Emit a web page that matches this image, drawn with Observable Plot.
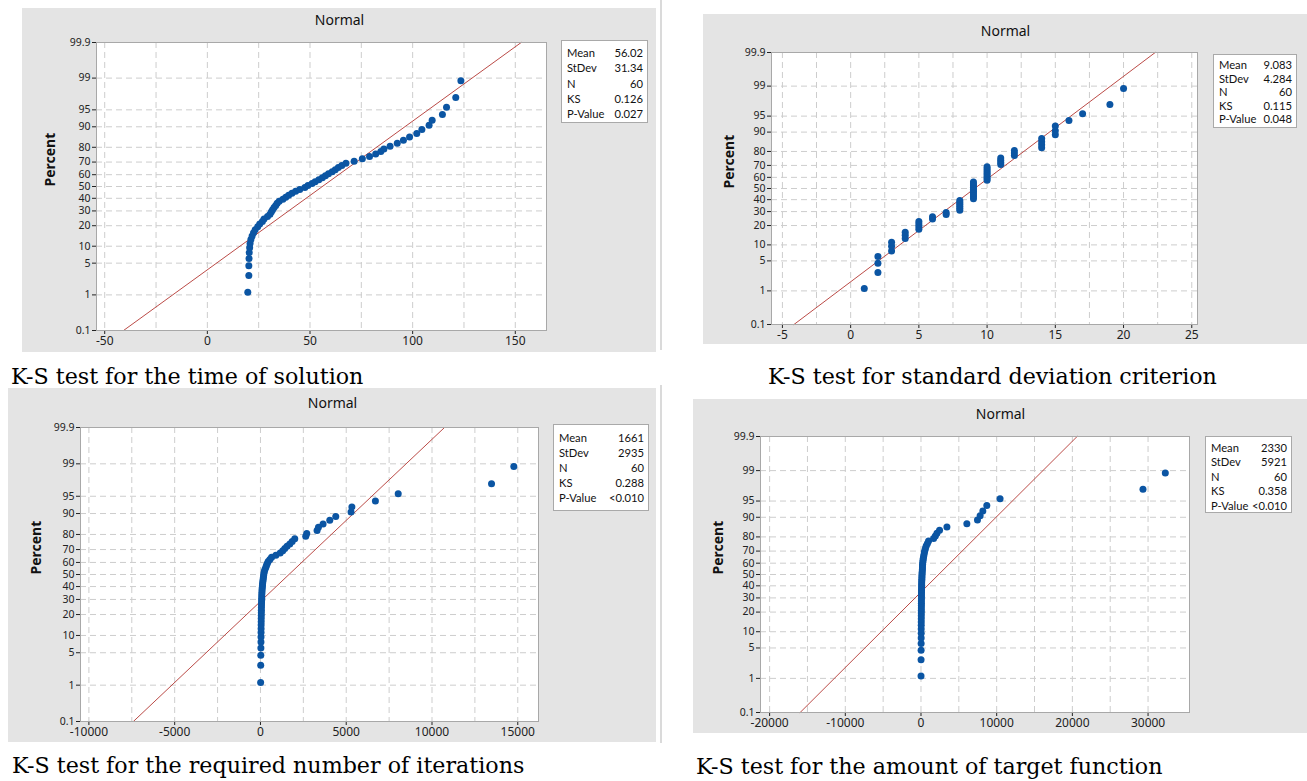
<!DOCTYPE html>
<html><head><meta charset="utf-8">
<script src="https://cdn.jsdelivr.net/npm/d3@7"></script>
<script src="https://cdn.jsdelivr.net/npm/@observablehq/plot@0.6"></script>
<style>
body{margin:0;background:#fff;}
#wrap{position:relative;width:1307px;height:781px;overflow:hidden;font-family:"Noto Sans",sans-serif;}
.panel{position:absolute;}
.panel svg{display:block;}
.stats{position:absolute;background:#fff;border:1px solid #a9a9a9;box-sizing:border-box;font-family:Lato,"Noto Sans",sans-serif;font-size:11.2px;color:#111;}
.stats .row{position:absolute;left:5px;right:4px;display:flex;justify-content:space-between;line-height:12px;height:12px;white-space:nowrap;}
.cap{position:absolute;font-family:"DejaVu Serif",serif;font-size:22.2px;line-height:24px;white-space:nowrap;color:#000;}
.vline{position:absolute;width:2px;background:#dadada;}
</style></head><body><div id="wrap"></div>
<script>
// ---------- data ----------
const percentTicks = [0.1, 1, 5, 10, 20, 30, 40, 50, 60, 70, 80, 90, 95, 99, 99.9];
const percentTickLabels = ["0.1","1","5","10","20","30","40","50","60","70","80","90","95","99","99.9"];

const timeOfSolution = [19.7, 20.2, 20.2, 20.3, 20.4, 20.6, 20.8, 21.2, 21.8, 22.5, 23.3, 24.5, 25.5, 26.8, 27.6, 29.3, 30.5, 31.2, 31.8, 32.5, 33.3, 34, 35, 36.8, 38.2, 39.6, 41.2, 43, 45, 47.5, 49, 51, 52.5, 54.3, 56, 57.5, 59, 60.8, 62.3, 63.8, 65.5, 67.5, 71.5, 75.5, 79, 82, 84.5, 86, 89, 92.5, 95.5, 98.5, 102, 104.5, 108, 109.5, 114.5, 116.5, 121, 123.5];
const stdDevCriterion = [1, 2, 2, 2, 3, 3, 3, 4, 4, 4, 5, 5, 5, 5, 6, 6, 7, 7, 8, 8, 8, 8, 8, 8, 9, 9, 9, 9, 9, 9, 9, 9, 9, 9, 10, 10, 10, 10, 10, 10, 10, 10, 11, 11, 11, 11, 12, 12, 12, 14, 14, 14, 14, 15, 15, 15, 16, 17, 19, 20];
const requiredIterations = [10, 15, 20, 25, 30, 32, 35, 38, 40, 43, 45, 48, 50, 53, 56, 60, 64, 68, 72, 76, 80, 88, 95, 105, 115, 125, 140, 155, 170, 185, 200, 225, 260, 310, 350, 400, 450, 550, 650, 900, 1150, 1300, 1420, 1550, 1710, 1850, 2000, 2640, 2700, 3300, 3380, 3650, 4040, 4390, 5280, 5330, 6700, 8030, 13470, 14770];
const targetFunction = [5, 10, 15, 20, 25, 28, 30, 33, 35, 38, 40, 42, 45, 48, 50, 52, 55, 58, 60, 63, 66, 70, 75, 80, 85, 90, 100, 110, 120, 130, 140, 160, 180, 190, 200, 210, 240, 270, 300, 350, 400, 450, 520, 600, 700, 850, 1000, 1665, 1900, 2108, 2450, 3425, 6060, 7460, 7813, 8170, 8696, 10448, 29330, 32280];

const statLabels = ["Mean", "StDev", "N", "KS", "P-Value"];
const means = [56.02, 9.083, 1661, 2330];
const stdevs = [31.34, 4.284, 2935, 5921];
const meanText = ["56.02", "9.083", "1661", "2330"];
const stdevText = ["31.34", "4.284", "2935", "5921"];
const nText = ["60", "60", "60", "60"];
const ksText = ["0.126", "0.115", "0.288", "0.358"];
const pText = ["0.027", "0.048", "<0.010", "<0.010"];

const xTicks = [
  [-50, 0, 50, 100, 150],
  [-5, 0, 5, 10, 15, 20, 25],
  [-10000, -5000, 0, 5000, 10000, 15000],
  [-20000, -10000, 0, 10000, 20000, 30000]
];
const xGrid = [
  [-50, -25, 0, 25, 50, 75, 100, 125, 150],
  [-5, -2.5, 0, 2.5, 5, 7.5, 10, 12.5, 15, 17.5, 20, 22.5, 25],
  [-10000, -7500, -5000, -2500, 0, 2500, 5000, 7500, 10000, 12500, 15000],
  [-20000, -15000, -10000, -5000, 0, 5000, 10000, 15000, 20000, 25000, 30000]
];
const xDomains = [[-54, 165.2], [-5.8, 25.42], [-10490, 16208], [-21204, 35476]];
const titles = ["Normal", "Normal", "Normal", "Normal"];
const captions = ["K-S test for the time of solution", "K-S test for standard deviation criterion", "K-S test for the required number of iterations", "K-S test for the amount of target function"];
const series = [timeOfSolution, stdDevCriterion, requiredIterations, targetFunction];

// ---------- layout ----------
const layout = [
  {left:22, top:8, w:634, h:344, mt:34, mr:110, mb:22, ml:74, titleDy:-27, pctDx:-45.5,
   box:{left:561, top:40, w:87, h:83, row0:12, step:15.3}, cap:{left:11, top:364}},
  {left:703, top:14, w:604, h:330, mt:38, mr:110, mb:20, ml:68, titleDy:-26, pctDx:-41.6,
   box:{left:1213, top:54, w:84, h:74, row0:10, step:13.6}, cap:{left:768, top:364}},
  {left:8, top:388, w:648, h:354, mt:39, mr:118, mb:21, ml:72, titleDy:-29, pctDx:-44.2,
   box:{left:553, top:424, w:96, h:87, row0:12.7, step:15.1}, cap:{left:12, top:753}},
  {left:693, top:399, w:614, h:334, mt:37, mr:118, mb:21, ml:67, titleDy:-27, pctDx:-42.1,
   box:{left:1205, top:436, w:87, h:77, row0:10.7, step:14.5}, cap:{left:696, top:754}}
];

// inverse normal CDF (Acklam)
function probit(p) {
  const a=[-3.969683028665376e+01,2.209460984245205e+02,-2.759285104469687e+02,1.383577518672690e+02,-3.066479806614716e+01,2.506628277459239e+00];
  const b=[-5.447609879822406e+01,1.615858368580409e+02,-1.556989798598866e+02,6.680131188771972e+01,-1.328068155288572e+01];
  const c=[-7.784894002430293e-03,-3.223964580411365e-01,-2.400758277161838e+00,-2.549732539343734e+00,4.374664141464968e+00,2.938163982698783e+00];
  const d=[7.784695709041462e-03,3.224671290700398e-01,2.445134137142996e+00,3.754408661907416e+00];
  const pl=0.02425, ph=1-pl;
  let q,r;
  if (p<pl){q=Math.sqrt(-2*Math.log(p));return (((((c[0]*q+c[1])*q+c[2])*q+c[3])*q+c[4])*q+c[5])/((((d[0]*q+d[1])*q+d[2])*q+d[3])*q+1);}
  if (p<=ph){q=p-0.5;r=q*q;return (((((a[0]*r+a[1])*r+a[2])*r+a[3])*r+a[4])*r+a[5])*q/(((((b[0]*r+b[1])*r+b[2])*r+b[3])*r+b[4])*r+1);}
  q=Math.sqrt(-2*Math.log(1-p));return -(((((c[0]*q+c[1])*q+c[2])*q+c[3])*q+c[4])*q+c[5])/((((d[0]*q+d[1])*q+d[2])*q+d[3])*q+1);
}

const wrap = document.getElementById("wrap");
const zTicks = percentTicks.map(p => probit(p/100));
const zLo = zTicks[0], zHi = zTicks[zTicks.length-1];
function pctLabel(z){ let best=0; zTicks.forEach((t,i)=>{ if (Math.abs(t-z)<Math.abs(zTicks[best]-z)) best=i; }); return percentTickLabels[best]; }

// separators
[[660,0,350],[660,385,358]].forEach(([x,y,h])=>{const v=document.createElement("div");v.className="vline";v.style.left=x+"px";v.style.top=y+"px";v.style.height=h+"px";wrap.appendChild(v);});

series.forEach((vals, k) => {
  const L = layout[k];
  const n = vals.length;
  const pts = vals.map((v,i)=>({x:v, z: probit((i+1-0.3)/(n+0.4))}));
  const fit = [zLo, zHi].map(z=>({x: means[k] + stdevs[k]*z, z}));
  const chart = Plot.plot({
    width: L.w, height: L.h,
    marginTop: L.mt, marginRight: L.mr, marginBottom: L.mb, marginLeft: L.ml,
    style: {background:"#e4e4e4", fontFamily:"'Noto Sans', sans-serif", fontSize:"12px", color:"#222", overflow:"visible"},
    x: {domain: xDomains[k], label: null},
    y: {domain: [zLo, zHi], label: null},
    marks: [
      Plot.frame({fill:"#fff", stroke:null}),
      Plot.gridX({ticks: xGrid[k], stroke:"#cdcdcd", strokeOpacity:1, strokeDasharray:"6,4"}),
      Plot.gridY({ticks: zTicks.slice(1,-1), stroke:"#cdcdcd", strokeOpacity:1, strokeDasharray:"6,4"}),
      Plot.axisX({ticks: xTicks[k], tickSize:4, tickPadding:2, tickFormat: d => String(d), label:null}),
      Plot.axisY({ticks: zTicks, tickSize:4, tickPadding:2, tickFormat: pctLabel, label:null, fontSize:10.5}),
      Plot.line(fit, {x:"x", y:"z", stroke:"#bb4b47", strokeWidth:1}),
      Plot.dot(pts, {x:"x", y:"z", r:3.5, fill:"#0b55a3", stroke:null}),
      Plot.frame({stroke:"#a8a8a8"}),
      Plot.text([titles[k]], {frameAnchor:"top", dy:L.titleDy, dx:(L.mr-L.ml)/2, fontSize:14, fill:"#111"}),
      Plot.text(["Percent"], {frameAnchor:"left", rotate:-90, dx:L.pctDx, fontSize:14, fontWeight:"bold", fill:"#111"})
    ]
  });
  const holder = document.createElement("div");
  holder.className = "panel";
  holder.style.left = L.left+"px"; holder.style.top = L.top+"px";
  holder.appendChild(chart);
  wrap.appendChild(holder);

  const box = document.createElement("div");
  box.className = "stats";
  Object.assign(box.style, {left:L.box.left+"px", top:L.box.top+"px", width:L.box.w+"px", height:L.box.h+"px"});
  const vals2 = [meanText[k], stdevText[k], nText[k], ksText[k], pText[k]];
  statLabels.forEach((lab,i)=>{
    const row = document.createElement("div");
    row.className = "row";
    row.style.top = (L.box.row0 + i*L.box.step - 6)+"px";
    row.innerHTML = `<span>${lab}</span><span>${vals2[i]}</span>`;
    box.appendChild(row);
  });
  wrap.appendChild(box);

  const cap = document.createElement("div");
  cap.className = "cap";
  cap.style.left = L.cap.left+"px"; cap.style.top = L.cap.top+"px";
  cap.textContent = captions[k];
  wrap.appendChild(cap);
});
</script></body></html>
